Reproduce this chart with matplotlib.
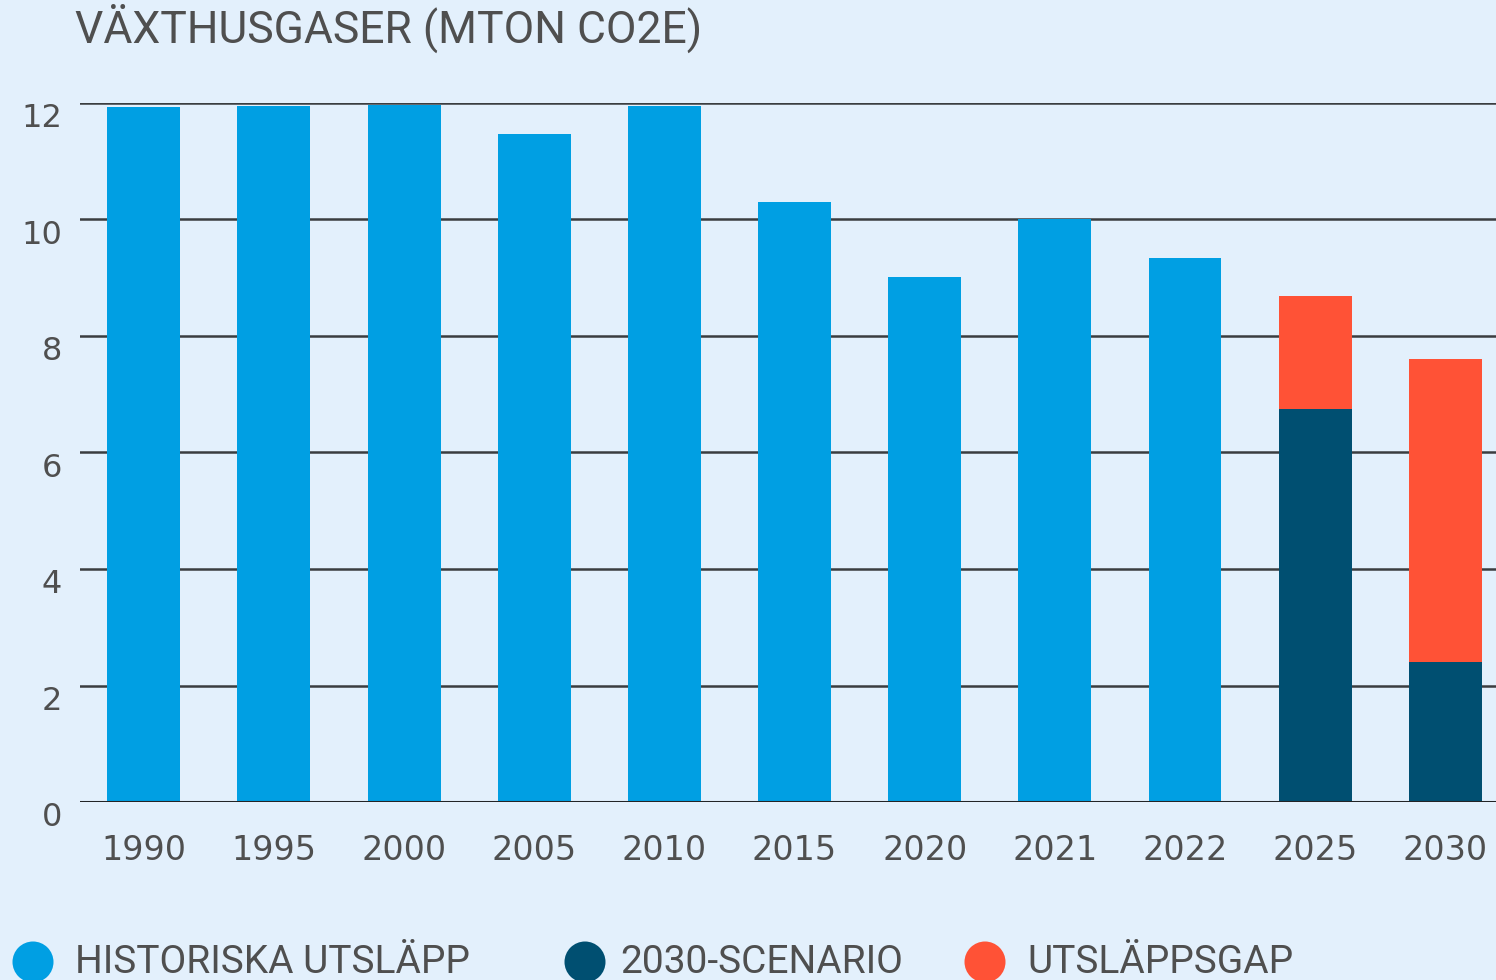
import matplotlib.pyplot as plt
from matplotlib.patches import Ellipse

# Data
years = ["1990", "1995", "2000", "2005", "2010", "2015", "2020", "2021", "2022", "2025", "2030"]
historiska = [11.93, 11.95, 11.97, 11.47, 11.95, 10.30, 9.01, 10.01, 9.34, 0, 0]
scenario = [0, 0, 0, 0, 0, 0, 0, 0, 0, 6.75, 2.40]
gap = [0, 0, 0, 0, 0, 0, 0, 0, 0, 1.94, 5.21]
y_ticks = [0, 2, 4, 6, 8, 10, 12]

bg = "#E3F0FC"
c_hist = "#009FE3"
c_scen = "#004F71"
c_gap = "#FF5236"
txt = "#4F4F4F"

plt.rcParams['font.family'] = ['Roboto', 'DejaVu Sans']

fig = plt.figure(figsize=(14.96, 9.8), dpi=100, facecolor=bg)
ax = fig.add_axes([80 / 1496, 1 - 802 / 980, 1 - 80 / 1496, (802 - 103) / 980])
ax.set_facecolor(bg)

x = list(range(len(years)))
w = 0.56
ax.bar(x, historiska, width=w, color=c_hist, zorder=3)
ax.bar(x, scenario, width=w, color=c_scen, zorder=3)
ax.bar(x, gap, width=w, bottom=scenario, color=c_gap, zorder=3)

ax.set_xlim(-0.49, 10.39)
ax.set_ylim(0, 12)
ax.set_yticks(y_ticks)
ax.yaxis.grid(True, color="#3A3D40", linewidth=1.8, zorder=1)
ax.axhline(0, color="#222426", linewidth=2.2, zorder=4)
for s in ax.spines.values():
    s.set_visible(False)
ax.tick_params(axis="both", length=0, colors=txt)
ax.tick_params(axis="y", pad=13)
ax.tick_params(axis="x", pad=23)
ax.set_xticks(x)
ax.set_xticklabels(years)
for lab in ax.get_yticklabels():
    lab.set_verticalalignment("top")
    lab.set_fontfamily("DejaVu Sans")
    lab.set_fontsize(23)
for lab in ax.get_xticklabels():
    lab.set_fontfamily("DejaVu Sans")
    lab.set_fontsize(24)

fig.text(75 / 1496, 1 - 28 / 980, "VÄXTHUSGASER (MTON CO2E)", fontsize=32,
         color=txt, va="center", ha="left")

# legend
legend_items = [("HISTORISKA UTSLÄPP", c_hist, 33, 75),
                ("2030-SCENARIO", c_scen, 585, 620),
                ("UTSLÄPPSGAP", c_gap, 985, 1027)]
ly = 1 - 962 / 980
for label, col, cx, tx in legend_items:
    e = Ellipse((cx / 1496, ly), 41 / 1496, 41 / 980, transform=fig.transFigure,
                facecolor=col, edgecolor="none")
    fig.add_artist(e)
    fig.text(tx / 1496, ly, label, fontsize=28, color=txt, va="center", ha="left")

fig.savefig("out.png", dpi=100, facecolor=bg)
